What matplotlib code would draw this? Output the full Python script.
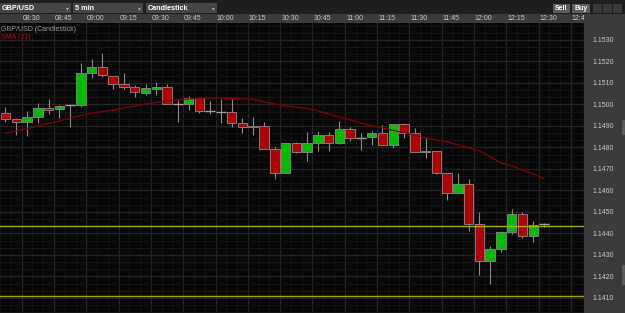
import matplotlib
matplotlib.use("Agg")
import matplotlib.pyplot as plt
from matplotlib.patches import Rectangle
import numpy as np

# 5 min GBP/USD candles
opens = [1.14959, 1.14931, 1.14919, 1.14942, 1.14984, 1.14978, 1.14998, 1.14998, 1.15145, 1.15173,
         1.15134, 1.15095, 1.15080, 1.15055, 1.15074, 1.15081, 1.15004, 1.15001, 1.15029, 1.14970,
         1.14965, 1.14964, 1.14913, 1.14894, 1.14900, 1.14792, 1.14680, 1.14822, 1.14778, 1.14822,
         1.14858, 1.14820, 1.14885, 1.14846, 1.14847, 1.14867, 1.14812, 1.14908, 1.14866, 1.14778,
         1.14785, 1.14680, 1.14587, 1.14630, 1.14443, 1.14272, 1.14327, 1.14406, 1.14489, 1.14388,
         1.14443]
closes = [1.14931, 1.14919, 1.14942, 1.14982, 1.14976, 1.14994, 1.14998, 1.15145, 1.15173, 1.15136,
          1.15095, 1.15080, 1.15057, 1.15075, 1.15081, 1.15004, 1.15004, 1.15029, 1.14970, 1.14970,
          1.14965, 1.14913, 1.14894, 1.14900, 1.14792, 1.14680, 1.14822, 1.14779, 1.14822, 1.14858,
          1.14820, 1.14885, 1.14843, 1.14846, 1.14867, 1.14812, 1.14908, 1.14866, 1.14778, 1.14785,
          1.14680, 1.14587, 1.14630, 1.14443, 1.14272, 1.14326, 1.14406, 1.14489, 1.14388, 1.14440,
          1.14443]
highs = [1.14987, 1.14937, 1.14970, 1.15006, 1.15024, 1.14998, 1.14998, 1.15192, 1.15212, 1.15238,
         1.15134, 1.15145, 1.15091, 1.15094, 1.15106, 1.15095, 1.15021, 1.15040, 1.15029, 1.15016,
         1.15026, 1.15024, 1.14936, 1.14943, 1.14917, 1.14804, 1.14822, 1.14827, 1.14874, 1.14877,
         1.14874, 1.14925, 1.14897, 1.14866, 1.14877, 1.14905, 1.14909, 1.14915, 1.14889, 1.14847,
         1.14785, 1.14680, 1.14680, 1.14652, 1.14500, 1.14342, 1.14406, 1.14514, 1.14499, 1.14460,
         1.14447]
lows = [1.14920, 1.14858, 1.14854, 1.14913, 1.14956, 1.14939, 1.14894, 1.14990, 1.15122, 1.15129,
        1.15071, 1.15071, 1.15034, 1.15044, 1.15044, 1.15004, 1.14920, 1.14974, 1.14962, 1.14954,
        1.14913, 1.14897, 1.14869, 1.14858, 1.14792, 1.14654, 1.14680, 1.14773, 1.14737, 1.14785,
        1.14785, 1.14815, 1.14832, 1.14788, 1.14812, 1.14812, 1.14799, 1.14843, 1.14778, 1.14750,
        1.14675, 1.14556, 1.14587, 1.14412, 1.14206, 1.14165, 1.14315, 1.14398, 1.14381, 1.14362,
        1.14429]
sma = [1.14867, 1.14877, 1.14888, 1.14900, 1.14912, 1.14923, 1.14937, 1.14949, 1.14960, 1.14967,
       1.14974, 1.14984, 1.14993, 1.15002, 1.15009, 1.15016, 1.15021, 1.15026, 1.15029, 1.15030,
       1.15030, 1.15028, 1.15026, 1.15023, 1.15012, 1.15002, 1.14993, 1.14988, 1.14981, 1.14970,
       1.14956, 1.14942, 1.14928, 1.14914, 1.14900, 1.14891, 1.14879, 1.14870, 1.14858, 1.14844,
       1.14835, 1.14826, 1.14812, 1.14798, 1.14784, 1.14756, 1.14728, 1.14714, 1.14695, 1.14677,
       1.14654]

time_labels = ["08:30", "08:45", "09:00", "09:15", "09:30", "09:45", "10:00", "10:15", "10:30",
               "10:45", "11:00", "11:15", "11:30", "11:45", "12:00", "12:15", "12:30", "12:45"]
price_ticks = [1.1410, 1.1420, 1.1430, 1.1440, 1.1450, 1.1460, 1.1470,
               1.1480, 1.1490, 1.1500, 1.1510, 1.1520, 1.1530]
level_lines = [1.14435, 1.14110]

plt.rcParams['font.family'] = ['Liberation Sans', 'DejaVu Sans']

W, H = 625, 313
fig = plt.figure(figsize=(W / 100, H / 100), dpi=100, facecolor='#3b3b3b')

# main chart
ax = fig.add_axes([0, 0, 584 / W, (H - 23) / H], facecolor='#080808')
n = len(opens)
x = np.arange(n)
ax.set_xlim(-0.51, 53.71)
ax.set_ylim(1.14030, 1.15379)

# grid
for gx in np.arange(-0.5, 54, 1):
    ax.axvline(gx, color='#141414', lw=0.8, zorder=0)
for gx in np.arange(1.5, 54, 3):
    ax.axvline(gx, color='#242424', lw=0.9, zorder=0)
for gy in np.arange(1.1400, 1.1540, 0.001 / 3):
    ax.axhline(gy, color='#141414', lw=0.8, zorder=0)
for gy in price_ticks:
    ax.axhline(gy, color='#242424', lw=0.9, zorder=0)

o = np.array(opens)
c = np.array(closes)
colors = np.where(c > o, '#00bb00', np.where(c < o, '#b00000', '#9a9a9a'))

ax.vlines(x, lows, highs, color='#8a8a8a', lw=0.8, zorder=2)
ax.bar(x, np.abs(c - o), bottom=np.minimum(o, c), width=0.88, color=colors,
       edgecolor='#7e7e7e', linewidth=0.7, zorder=3)
doji = c == o
ax.hlines(o[doji], x[doji] - 0.44, x[doji] + 0.44, color='#a0a0a0', lw=1.0, zorder=3)

ax.plot(x, sma, color='#850000', lw=0.9, zorder=4)
for lv in level_lines:
    ax.axhline(lv, color='#a8a800', lw=1.0, zorder=5)

for s in ax.spines.values():
    s.set_visible(False)
ax.set_xticks([])
ax.yaxis.tick_right()
ax.set_yticks(price_ticks)
ax.set_yticklabels(["%.4f" % p for p in price_ticks])
ax.tick_params(axis='y', length=0, pad=6, labelsize=5, labelcolor='#c8c8c8')

ax.text(0.002, 0.99, "GBP/USD (Candlestick)", transform=ax.transAxes, color='#9a9a9a',
        fontsize=5, va='top', ha='left')
ax.text(0.002, 0.963, "SMA (21)", transform=ax.transAxes, color='#d00000',
        fontsize=5, va='top', ha='left')

# time strip
st = fig.add_axes([0, (H - 23) / H, 584 / W, 9 / H], facecolor='#3b3b3b')
st.set_xlim(ax.get_xlim())
st.set_ylim(0, 1)
for k, lab in enumerate(time_labels):
    st.text(2.4 + 3 * k, 0.45, lab, ha='center', va='center', fontsize=5,
            color='#c8c8c8', clip_on=True)
for s in st.spines.values():
    s.set_visible(False)
st.set_xticks([])
st.set_yticks([])

# toolbar
tb = fig.add_axes([0, (H - 14) / H, 1, 14 / H], facecolor='#1e1e1e')
tb.set_xlim(0, W)
tb.set_ylim(14, 0)
for s in tb.spines.values():
    s.set_visible(False)
tb.set_xticks([])
tb.set_yticks([])
for x0, x1, lab in [(0, 71, "GBP/USD"), (73, 143, "5 min"), (146, 217, "Candlestick")]:
    tb.add_patch(Rectangle((x0, 3.3), x1 - x0, 10, facecolor='#454545', edgecolor='none'))
    tb.text(x0 + 2, 8.4, lab, color='white', fontsize=5.2, fontweight='bold',
            ha='left', va='center')
    tb.text(x1 - 4, 8.4, "\u25be", color='#aaaaaa', fontsize=4, ha='center', va='center')
for x0, x1, lab in [(553, 570, "Sell"), (572, 590, "Buy")]:
    tb.add_patch(Rectangle((x0, 4), x1 - x0, 9, facecolor='#5c5c5c', edgecolor='none'))
    tb.text((x0 + x1) / 2, 8.6, lab, color='white', fontsize=5, fontweight='bold',
            ha='center', va='center')
for x0 in [593, 603, 613]:
    tb.add_patch(Rectangle((x0, 4), 9, 9, facecolor='#3a3a3a', edgecolor='none'))

# scroll handles on the price panel
fig.add_artist(Rectangle((622 / W, 1 - 135 / H), 3 / W, 15 / H,
                         transform=fig.transFigure, facecolor='#5a5a5a', edgecolor='none'))
fig.add_artist(Rectangle((622 / W, 1 - 285 / H), 3 / W, 20 / H,
                         transform=fig.transFigure, facecolor='#5a5a5a', edgecolor='none'))

fig.savefig("out.png", dpi=100, facecolor=fig.get_facecolor())
